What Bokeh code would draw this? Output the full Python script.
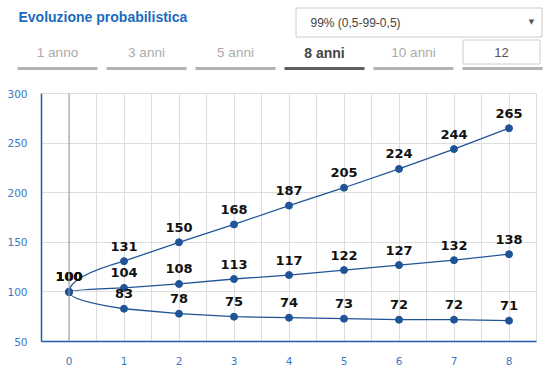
from bokeh.plotting import figure
from bokeh.models import Range1d, SingleIntervalTicker, Span, ColumnDataSource
from bokeh.layouts import column
from bokeh.core.properties import value
from bokeh.embed import file_html
from bokeh.resources import INLINE

# ---------------- data ----------------
years = [0, 1, 2, 3, 4, 5, 6, 7, 8]
upper = [100, 131, 150, 168, 187, 205, 224, 244, 265]
middle = [100, 104, 108, 113, 117, 122, 127, 132, 138]
lower = [100, 83, 78, 75, 74, 73, 72, 72, 71]

title_text = "Evoluzione probabilistica"
dropdown_text = "99% (0,5-99-0,5)"
tab_labels = ["1 anno", "3 anni", "5 anni", "8 anni", "10 anni"]
selected_tab = "8 anni"
custom_years = "12"

W = 543
HEAD_H = 83
CHART_H = 287

BLUE = "#1f5597"
AXIS_BLUE = "#1f5ea8"
LABEL_BLUE = "#3c78c0"

# ---------------- header ----------------
h = figure(width=W, height=HEAD_H, output_backend="svg", toolbar_location=None,
           x_range=Range1d(0, W), y_range=Range1d(HEAD_H, 0),
           x_axis_location=None, y_axis_location=None, frame_align=False,
           min_border_left=0, min_border_right=0, min_border_top=0, min_border_bottom=0)
h.grid.visible = False
h.outline_line_color = None

h.text(x=[18], y=[16], text=[title_text], text_font=value("Liberation Sans"),
       text_font_size="14px", text_font_style="bold", text_color="#1a6bc0",
       text_align="left", text_baseline="middle")

# dropdown
h.quad(left=[295.5], right=[541.5], top=[7.5], bottom=[36.5], fill_color="white",
       line_color="#cccccc", line_width=1)
h.text(x=[310], y=[22], text=[dropdown_text], text_font=value("Liberation Sans"),
       text_font_size="12px", text_color="#444444", text_align="left", text_baseline="middle")
h.text(x=[531], y=[21.5], text=["\u25BC"], text_font=value("DejaVu Sans"),
       text_font_size="7px", text_color="#555555", text_align="center", text_baseline="middle")

# tabs
pitch = 89
seg_w = 80
start = 17
n_tabs = len(tab_labels) + 1
x0s = [start + pitch * i for i in range(n_tabs)]
x1s = [x + seg_w for x in x0s]
seg_colors = ["#5f5f5f" if (i < len(tab_labels) and tab_labels[i] == selected_tab) else "#b3b3b3"
              for i in range(n_tabs)]
h.segment(x0=x0s, y0=[68] * n_tabs, x1=x1s, y1=[68] * n_tabs, line_color=seg_colors, line_width=3)

for i, lab in enumerate(tab_labels):
    sel = lab == selected_tab
    h.text(x=[x0s[i] + seg_w / 2], y=[52], text=[lab], text_font=value("Liberation Sans"),
           text_font_size="14px" if sel else "13.5px",
           text_font_style="bold" if sel else "normal",
           text_color="#444444" if sel else "#aaaaaa",
           text_align="center", text_baseline="middle")

# custom years box
h.quad(left=[x0s[-1] + 0.5], right=[x0s[-1] + 77.5], top=[39.5], bottom=[63.5], fill_color="white",
       line_color="#cccccc", line_width=1)
h.text(x=[x0s[-1] + 39], y=[52], text=[custom_years], text_font=value("Liberation Sans"),
       text_font_size="13px", text_color="#555555", text_align="center", text_baseline="middle")

# ---------------- chart ----------------
p = figure(width=W, height=CHART_H, output_backend="svg", toolbar_location=None,
           x_range=Range1d(-0.5, 8.5), y_range=Range1d(50, 300), frame_align=False,
           min_border_left=41, min_border_right=7, min_border_top=10, min_border_bottom=29)
p.outline_line_color = "#dddddd"

p.xaxis.ticker = SingleIntervalTicker(interval=1, num_minor_ticks=2)
p.yaxis.ticker = SingleIntervalTicker(interval=50, num_minor_ticks=0)
p.xgrid.grid_line_color = "#dddddd"
p.xgrid.minor_grid_line_color = "#dddddd"
p.ygrid.grid_line_color = "#dddddd"

for ax in (p.xaxis, p.yaxis):
    ax.axis_line_color = AXIS_BLUE
    ax.axis_line_width = 1.5
    ax.major_tick_line_color = None
    ax.minor_tick_line_color = None
    ax.major_label_text_color = LABEL_BLUE
    ax.major_label_text_font = "DejaVu Sans"
    ax.major_label_text_font_size = "10.5px"
p.xaxis.major_label_standoff = 9
p.yaxis.major_label_standoff = 8

p.add_layout(Span(location=0, dimension="height", line_color="#999999", line_width=1))

for series in (upper, middle, lower):
    # first segment: curve with vertical start tangent
    p.quadratic(x0=[years[0]], y0=[series[0]], x1=[years[1]], y1=[series[1]],
                cx=[years[0]], cy=[series[0] + (series[1] - series[0]) / 2],
                line_color=BLUE, line_width=1.3)
    p.line(years[1:], series[1:], line_color=BLUE, line_width=1.3)

for series in (upper, middle, lower):
    src = ColumnDataSource(dict(x=years, y=series, t=[str(v) for v in series]))
    p.scatter("x", "y", source=src, size=7, fill_color=BLUE, line_color=BLUE)
    p.text("x", "y", text="t", source=src, text_font=value("DejaVu Sans"),
           text_font_size="13px", text_font_style="bold", text_color="#111111",
           text_align="center", text_baseline="alphabetic", y_offset=-15)

layout = column(h, p)
open("out.html", "w").write(file_html(layout, INLINE))
